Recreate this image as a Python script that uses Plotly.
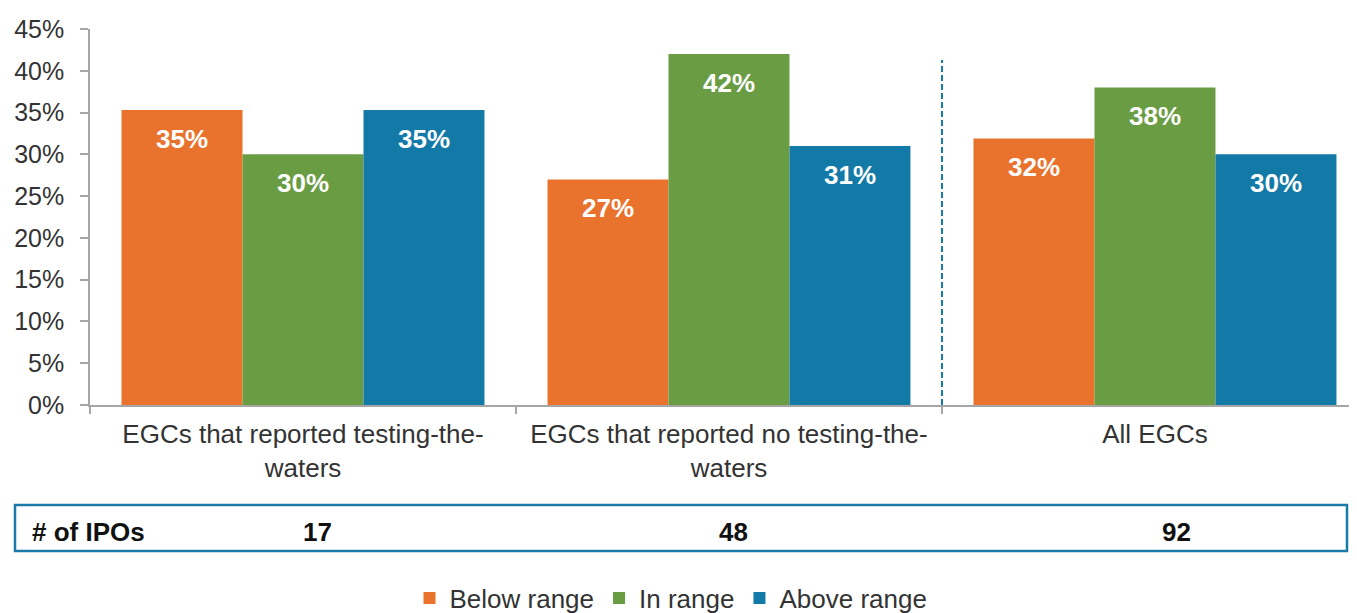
import plotly.graph_objects as go

categories = ["EGCs that reported testing-the-<br>waters",
              "EGCs that reported no testing-the-<br>waters",
              "All EGCs"]
series_names = ["Below range", "In range", "Above range"]
below_range = [35.3, 27.0, 31.9]
in_range = [30.0, 42.0, 38.0]
above_range = [35.3, 31.0, 30.0]
ipo_label = "# of IPOs"
ipo_counts = [17, 48, 92]
y_ticks = [0, 5, 10, 15, 20, 25, 30, 35, 40, 45]

colors = ["#E9732D", "#6A9C44", "#137AA8"]
series_values = [below_range, in_range, above_range]

# page has an 8px body margin; figure coordinates are page - 8
OFF = 8
W, H = 1357, 613
L, R, T, B = 90 - OFF, 0, 29 - OFF, 613 - (405 - OFF)
plot_w = W - L - R
plot_h = H - T - B


def px_to_paper_x(px):
    return (px - OFF - L) / plot_w


def px_to_paper_y(py):
    return (H - B - (py - OFF)) / plot_h


FONT = "Liberation Sans, Arial, sans-serif"
BARGAP = 0.148

fig = go.Figure()
for name, vals, col in zip(series_names, series_values, colors):
    fig.add_trace(go.Bar(
        x=categories, y=vals, name=name,
        marker=dict(color=col, line=dict(width=0)),
        hoverinfo="skip",
    ))

# value labels inside bars near top
offsets = [-1, 0, 1]
bar_w = (1 - BARGAP) / 3
for off, vals in zip(offsets, series_values):
    for i, v in enumerate(vals):
        fig.add_annotation(
            x=i + off * bar_w, y=v, xref="x", yref="y",
            text=f"<b>{v:.0f}%</b>", showarrow=False,
            yanchor="top", yshift=-12,
            font=dict(family=FONT, size=26, color="white"),
        )

# dashed separator between 2nd and 3rd group
fig.add_shape(type="line", xref="x", yref="y", x0=1.5, x1=1.5, y0=0, y1=41.3,
              line=dict(color="#137AA8", width=2, dash="6px,3px"))

# table box
fig.add_shape(type="rect", xref="paper", yref="paper",
              x0=px_to_paper_x(15), x1=px_to_paper_x(1347),
              y0=px_to_paper_y(551), y1=px_to_paper_y(505),
              line=dict(color="#1B7AA6", width=2.5), fillcolor="rgba(0,0,0,0)")
TFONT = "Liberation Sans, Arial"
fig.add_annotation(xref="paper", yref="paper", x=px_to_paper_x(30), y=px_to_paper_y(532),
                   xanchor="left", yanchor="middle", showarrow=False,
                   text=f"<b>{ipo_label}</b>",
                   font=dict(family=TFONT, size=26, color="#111111"))
ipo_px = [317, 733, 1176]
for n, pxx in zip(ipo_counts, ipo_px):
    fig.add_annotation(xref="paper", yref="paper", x=px_to_paper_x(pxx), y=px_to_paper_y(532),
                       xanchor="center", yanchor="middle", showarrow=False,
                       text=f"<b>{n}</b>",
                       font=dict(family=TFONT, size=26, color="#111111"))

fig.update_layout(
    width=W, height=H,
    margin=dict(l=L, r=R, t=T, b=B, pad=0, autoexpand=False),
    paper_bgcolor="white", plot_bgcolor="white",
    barmode="group", bargap=BARGAP, bargroupgap=0,
    font=dict(family=FONT, size=25, color="#333333"),
    showlegend=True,
    legend=dict(orientation="h", xref="container", yref="container",
                x=(671 - OFF) / W, xanchor="center",
                y=1 - (598 - OFF) / H, yanchor="middle",
                font=dict(size=26, color="#333333"),
                itemwidth=30, traceorder="normal"),
)
fig.update_xaxes(
    range=[-0.5, 2.493], showline=True, linecolor="#A6A6A6", linewidth=1.5,
    ticks="outside", tickson="boundaries", ticklen=7, tickcolor="#A6A6A6", tickwidth=1.5,
    showgrid=False, tickfont=dict(size=26, color="#333333"), fixedrange=True,
    ticklabelstandoff=5, automargin=False,
)
fig.update_yaxes(
    range=[0, 45], tickvals=y_ticks, ticktext=[f"{t}%" for t in y_ticks],
    showline=True, linecolor="#A6A6A6", linewidth=1.5,
    ticks="outside", ticklen=8, tickcolor="#A6A6A6", tickwidth=1.5,
    showgrid=False, zeroline=False, tickfont=dict(size=25, color="#333333"),
    ticklabelstandoff=11, automargin=False,
)

fig.write_html("out.html")
